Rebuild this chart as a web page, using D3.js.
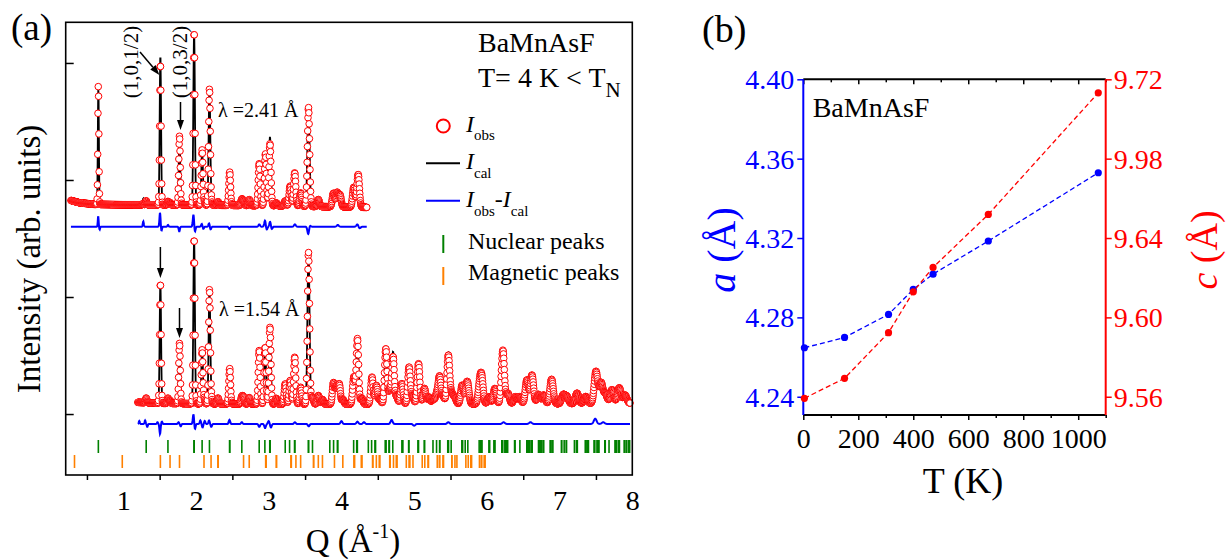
<!DOCTYPE html>
<html>
<head>
<meta charset="utf-8">
<script src="https://cdn.jsdelivr.net/npm/d3@7"></script>
<style>
  body { margin: 0; background: #fff; }
  svg text { font-family: "Liberation Serif", "Times New Roman", serif; }
</style>
</head>
<body>
<svg id="fig" width="1231" height="560"></svg>
<script>
// ---------------- Panel (a): neutron powder diffraction, BaMnAsF at 4 K ----------------

// Bragg reflection positions, Q in 1/Å
const nuclearQ = [0.657, 1.315, 1.614, 1.972, 1.975, 2.084, 2.185, 2.462, 2.464, 2.630, 2.869, 2.947, 3.014, 3.020,
  3.227, 3.287, 3.355, 3.360, 3.546, 3.548, 3.602, 3.840, 3.892, 3.944, 3.950, 4.168, 4.210, 4.216, 4.219, 4.370,
  4.415, 4.461, 4.469, 4.602, 4.611, 4.612, 4.654, 4.660, 4.706, 4.832, 4.841, 4.842, 4.924, 4.928, 5.052, 5.060,
  5.139, 5.144, 5.259, 5.308, 5.350, 5.353, 5.462, 5.464, 5.473, 5.509, 5.657, 5.660, 5.667, 5.702, 5.738, 5.894,
  5.916, 5.924, 5.928, 5.931, 6.028, 6.039, 6.097, 6.105, 6.111, 6.206, 6.209, 6.215, 6.216, 6.248, 6.252, 6.273,
  6.286, 6.381, 6.388, 6.454, 6.549, 6.555, 6.574, 6.590, 6.610, 6.617, 6.620, 6.623, 6.710, 6.720, 6.737, 6.749,
  6.772, 6.782, 6.870, 6.879, 6.896, 6.908, 7.026, 7.029, 7.063, 7.092, 7.095, 7.204, 7.231, 7.237, 7.244, 7.353,
  7.364, 7.380, 7.385, 7.392, 7.397, 7.476, 7.478, 7.484, 7.514, 7.525, 7.531, 7.542, 7.622, 7.627, 7.628, 7.680,
  7.763, 7.768, 7.784, 7.809, 7.823, 7.888, 7.899, 7.922, 7.947, 7.952, 7.960, 7.962];
const magneticQ = [0.329, 0.986, 1.510, 1.643, 1.773, 2.110, 2.207, 2.301, 2.305, 2.654, 2.732, 2.958, 2.965, 3.104,
  3.108, 3.305, 3.311, 3.374, 3.439, 3.616, 3.618, 3.682, 3.739, 3.904, 4.019, 4.173, 4.176, 4.181, 4.273, 4.283,
  4.428, 4.433, 4.480, 4.520, 4.529, 4.664, 4.671, 4.716, 4.754, 4.761, 4.763, 4.892, 4.930, 4.941, 4.984, 5.111,
  5.146, 5.191, 5.197, 5.319, 5.323, 5.353, 5.396, 5.404, 5.518, 5.519, 5.561, 5.588, 5.711, 5.744, 5.779, 5.790,
  5.898, 5.903, 5.930, 5.964, 5.969, 5.976];

// λ = 2.41 Å pattern: [Q, observed height, calculated height] above background
const peaks241 = [
  [0.657, 1017, 1017], [1.275, 12, 55], [1.315, 35, 35], [1.510, 1211, 1282], [1.614, 30, 30], [1.643, 20, 20],
  [1.773, 590, 590], [1.974, 1481, 1481], [2.084, 470, 470], [2.110, 30, 30], [2.185, 989, 989], [2.207, 40, 40],
  [2.303, 30, 30], [2.463, 285, 285], [2.630, 51, 51], [2.654, 30, 30], [2.732, 51, 51], [2.869, 359, 359],
  [2.955, 444, 460], [3.017, 530, 590], [3.104, 25, 25], [3.227, 43, 43], [3.295, 171, 171], [3.357, 285, 285],
  [3.439, 114, 114], [3.547, 846, 846], [3.682, 60, 60], [3.890, 115, 115], [3.940, 120, 120], [3.980, 100, 100],
  [4.170, 170, 170], [4.230, 280, 280]
];
const background241 = [[0.28, 125], [0.40, 105], [0.60, 92], [1.0, 88], [2.0, 86], [3.0, 80], [4.35, 66]];
const difference241 = [
  [0.655, 90], [0.675, -25], [1.275, 45], [1.505, 120], [1.525, -35], [1.615, 15], [1.770, -40], [1.965, 105],
  [1.985, -45], [2.080, 25], [2.100, -20], [2.180, 30], [2.200, -25], [2.460, -20], [2.870, 20], [2.950, 55],
  [2.970, -30], [3.020, 45], [3.040, -25], [3.360, 20], [3.545, -70], [3.560, 20], [3.950, 15], [4.220, 20],
  [4.250, -15]
];

// λ = 1.54 Å pattern: [Q, observed height, calculated height] above background
const peaks154 = [
  [1.315, 40, 40], [1.510, 1030, 1040], [1.614, 45, 45], [1.643, 25, 25], [1.773, 516, 516], [1.974, 1414, 1414],
  [2.084, 459, 459], [2.110, 40, 40], [2.185, 972, 972], [2.207, 60, 60], [2.303, 50, 50], [2.463, 303, 303],
  [2.630, 60, 60], [2.654, 55, 55], [2.732, 55, 55], [2.869, 459, 459], [2.950, 487, 487], [3.017, 658, 658],
  [3.104, 50, 50], [3.227, 174, 174], [3.295, 203, 203], [3.357, 402, 402], [3.439, 145, 145], [3.547, 1299, 1299],
  [3.602, 60, 60], [3.682, 74, 74], [3.739, 40, 40], [3.890, 180, 180], [3.930, 150, 150], [3.970, 170, 170],
  [4.020, 40, 40], [4.170, 231, 231], [4.220, 559, 559], [4.280, 50, 50], [4.420, 231, 231], [4.480, 160, 160],
  [4.530, 40, 40], [4.610, 474, 474], [4.665, 120, 120], [4.710, 402, 444], [4.760, 60, 60], [4.830, 175, 175],
  [4.930, 316, 316], [4.980, 60, 60], [5.060, 345, 345], [5.140, 134, 134], [5.200, 60, 60], [5.260, 40, 40],
  [5.310, 80, 80], [5.350, 231, 231], [5.400, 60, 60], [5.470, 416, 440], [5.520, 80, 80], [5.560, 50, 50],
  [5.660, 160, 160], [5.720, 120, 120], [5.740, 100, 100], [5.900, 150, 150], [5.930, 203, 203], [6.030, 60, 60],
  [6.110, 132, 132], [6.220, 459, 459], [6.290, 89, 89], [6.390, 60, 60], [6.450, 60, 60], [6.550, 203, 203],
  [6.620, 245, 245], [6.710, 80, 80], [6.780, 74, 74], [6.890, 209, 209], [7.050, 74, 74], [7.100, 60, 60],
  [7.240, 89, 89], [7.360, 60, 60], [7.500, 273, 273], [7.570, 174, 174], [7.630, 80, 80], [7.720, 117, 117],
  [7.820, 132, 132], [7.900, 70, 70]
];
const background154 = [[1.2, 100], [1.5, 92], [2.0, 88], [3.0, 84], [4.0, 84], [5.0, 85], [6.0, 86], [7.0, 88], [7.97, 92]];
const difference154 = [
  [1.22, 25], [1.30, 30], [1.33, -25], [1.47, 15], [1.505, -85], [1.53, 20], [1.76, 15], [1.79, -20], [1.965, 85],
  [1.985, -45], [2.06, 30], [2.09, -30], [2.12, 25], [2.18, 30], [2.21, -25], [2.46, 35], [2.63, 15], [2.87, -25],
  [2.95, -35], [3.00, 25], [3.03, -30], [3.36, 15], [3.55, -20], [4.00, 25], [4.22, 20], [4.31, 15], [4.69, 35],
  [5.00, -15], [5.47, 15], [6.23, 15], [6.60, 15], [7.49, 45], [7.60, 15]
];

// vertical offsets of the stacked curves (arb. units)
const offset241 = 1700, diffOffset241 = 1601, diffOffset154 = -85;
const qRange241 = [0.28, 4.35], qRange154 = [1.2, 7.97];
const qTicks = [1, 2, 3, 4, 5, 6, 7, 8];
const qMinorTicks = [0.5, 1.5, 2.5, 3.5, 4.5, 5.5, 6.5, 7.5];
const intensityTicks = [0, 1000, 2000, 3000];

// ---------------- Panel (b): lattice parameters vs temperature ----------------
const tempK = [4, 150, 310, 400, 472, 673, 1073];
const latticeA = [4.2647, 4.2699, 4.2815, 4.2941, 4.3018, 4.3185, 4.3529];
const latticeC = [9.5592, 9.5693, 9.5923, 9.6129, 9.6252, 9.6519, 9.7132];
const tTicks = [0, 200, 400, 600, 800, 1000];
const tMinorTicks = [100, 300, 500, 700, 900, 1100];
const aTicks = [4.24, 4.28, 4.32, 4.36, 4.40];
const cTicks = [9.56, 9.60, 9.64, 9.68, 9.72];
const cTickLabels = ["9.56", "9.60", "9.64", "9.98", "9.72"];

const FONT = "Liberation Serif, Times New Roman, serif";
const BLUE = "#0000ff", RED = "#ff0000", GREEN = "#008000", ORANGE = "#ff8000";
const svg = d3.select("#fig");

// ---------- helpers ----------
function linearKnots(knots, q) {
  if (q <= knots[0][0]) return knots[0][1];
  for (let i = 1; i < knots.length; i++) {
    if (q <= knots[i][0]) {
      const [q0, v0] = knots[i - 1], [q1, v1] = knots[i];
      return v0 + (v1 - v0) * (q - q0) / (q1 - q0);
    }
  }
  return knots[knots.length - 1][1];
}
function gauss(q, q0, s) { const d = (q - q0) / s; return Math.exp(-0.5 * d * d); }
function pattern(peaks, bg, width, col, q) {
  let v = linearKnots(bg, q);
  for (const p of peaks) v += p[col] * gauss(q, p[0], width(p[0]));
  return v;
}
function diffCurve(features, width, q) {
  let v = 0;
  for (const f of features) v += f[1] * gauss(q, f[0], 0.8 * width(f[0]));
  return v;
}
// instrumental peak widths (Gaussian sigma, 1/Å)
const width241 = q => 0.005 + 0.0028 * q;
const width154 = q => 0.0058 + 0.0024 * q;
const STEP = 0.004;

// ---------- panel (a) ----------
const qScale = d3.scaleLinear().domain([0.208, 8]).range([65.7, 632.3]);
const iScale = d3.scaleLinear().domain([-521, 3350]).range([475, 22]);
const gA = svg.append("g");

function drawPattern(peaks, bg, width, range, offset, diff, diffOffset) {
  const qs = d3.range(range[0], range[1] + 1e-9, STEP);
  const obs = qs.map(q => [q, pattern(peaks, bg, width, 1, q) + offset]);
  const cal = qs.map(q => [q, pattern(peaks, bg, width, 2, q) + offset]);
  const dif = qs.map(q => [q, diffCurve(diff, width, q) + diffOffset]);
  const line = d3.line().x(d => qScale(d[0])).y(d => iScale(d[1]));
  gA.append("path").attr("d", line(cal)).attr("fill", "none")
    .attr("stroke", "#000").attr("stroke-width", 1.8);
  gA.append("g").selectAll("circle").data(obs).join("circle")
    .attr("cx", d => qScale(d[0])).attr("cy", d => iScale(d[1])).attr("r", 3.3)
    .attr("fill", "#fff").attr("stroke", RED).attr("stroke-width", 1);
  gA.append("path").attr("d", line(dif)).attr("fill", "none")
    .attr("stroke", BLUE).attr("stroke-width", 2);
}
drawPattern(peaks241, background241, width241, qRange241, offset241, difference241, diffOffset241);
drawPattern(peaks154, background154, width154, qRange154, 0, difference154, diffOffset154);

// Bragg position ticks
gA.append("g").selectAll("line").data(nuclearQ).join("line")
  .attr("x1", d => qScale(d)).attr("x2", d => qScale(d)).attr("y1", 440).attr("y2", 453)
  .attr("stroke", GREEN).attr("stroke-width", 1.6);
gA.append("g").selectAll("line").data(magneticQ).join("line")
  .attr("x1", d => qScale(d)).attr("x2", d => qScale(d)).attr("y1", 455).attr("y2", 468)
  .attr("stroke", ORANGE).attr("stroke-width", 1.6);

// axes of panel (a)
const axA1 = gA.append("g").attr("transform", "translate(0,475)")
  .call(d3.axisBottom(qScale).tickValues(qMinorTicks).tickSize(5).tickFormat(""));
const axA2 = gA.append("g").attr("transform", "translate(0,475)")
  .call(d3.axisBottom(qScale).tickValues(qTicks).tickSize(0).tickFormat(d3.format("d")));
const axA3 = gA.append("g").attr("transform", "translate(65.7,0)")
  .call(d3.axisRight(iScale).tickValues(intensityTicks).tickSize(8).tickFormat(""));
[axA1, axA2, axA3].forEach(g => {
  g.select(".domain").remove();
  g.attr("font-family", FONT);
  g.selectAll(".tick line").attr("stroke", "#000").attr("stroke-width", 1.5);
});
axA2.selectAll(".tick text").attr("y", 35).attr("dy", 0).attr("font-size", 28).attr("fill", "#000");
gA.append("rect").attr("x", 65.7).attr("y", 22.3).attr("width", 632.3 - 65.7).attr("height", 475 - 22.3)
  .attr("fill", "none").attr("stroke", "#000").attr("stroke-width", 1.6);

// axis titles
gA.append("text").attr("transform", "translate(40,259) rotate(-90)").attr("text-anchor", "middle")
  .attr("font-size", 33).text("Intensity (arb. units)");
const qt = gA.append("text").attr("x", 353).attr("y", 552).attr("text-anchor", "middle").attr("font-size", 33);
qt.append("tspan").text("Q (Å");
qt.append("tspan").attr("dy", -14).attr("font-size", 20).text("-1");
qt.append("tspan").attr("dy", 14).text(")");
svg.append("text").attr("x", 11).attr("y", 40).attr("font-size", 37).text("(a)");

// annotations
gA.append("text").attr("x", 478).attr("y", 52).attr("font-size", 28).text("BaMnAsF");
const tn = gA.append("text").attr("x", 478).attr("y", 87).attr("font-size", 28);
tn.append("tspan").text("T= 4 K < T");
tn.append("tspan").attr("dy", 10).attr("font-size", 21).text("N");
gA.append("text").attr("x", 218).attr("y", 117).attr("font-size", 20).text("λ =2.41 Å");
gA.append("text").attr("x", 219).attr("y", 316).attr("font-size", 20).text("λ =1.54 Å");
gA.append("text").attr("transform", "translate(138,62) rotate(-90)").attr("text-anchor", "middle")
  .attr("font-size", 21).text("(1,0,1/2)");
gA.append("text").attr("transform", "translate(187,62) rotate(-90)").attr("text-anchor", "middle")
  .attr("font-size", 21).text("(1,0,3/2)");

function arrow(x1, y1, x2, y2) {
  const ang = Math.atan2(y2 - y1, x2 - x1), L = 10, Wd = 3.5;
  const bx = x2 - L * Math.cos(ang), by = y2 - L * Math.sin(ang);
  gA.append("line").attr("x1", x1).attr("y1", y1).attr("x2", bx).attr("y2", by)
    .attr("stroke", "#000").attr("stroke-width", 1.5);
  const px = -Math.sin(ang) * Wd, py = Math.cos(ang) * Wd;
  gA.append("polygon").attr("points", `${x2},${y2} ${bx + px},${by + py} ${bx - px},${by - py}`).attr("fill", "#000");
}
arrow(140, 52, qScale(1.510) - 1, 75);
arrow(qScale(1.773) + 1, 102, qScale(1.773) + 1, 130);
arrow(qScale(1.510), 247, qScale(1.510), 278);
arrow(qScale(1.773), 308, qScale(1.773), 338);

// legend
const lg = gA.append("g");
lg.append("circle").attr("cx", 443.3).attr("cy", 126).attr("r", 6.5).attr("fill", "#fff")
  .attr("stroke", RED).attr("stroke-width", 2);
const l1 = lg.append("text").attr("x", 466).attr("y", 132).attr("font-size", 24);
l1.append("tspan").attr("font-style", "italic").text("I");
l1.append("tspan").attr("dy", 8).attr("font-size", 15).text("obs");
lg.append("line").attr("x1", 426).attr("x2", 460).attr("y1", 163.3).attr("y2", 163.3).attr("stroke", "#000").attr("stroke-width", 2);
const l2 = lg.append("text").attr("x", 466).attr("y", 169).attr("font-size", 24);
l2.append("tspan").attr("font-style", "italic").text("I");
l2.append("tspan").attr("dy", 9).attr("font-size", 15).text("cal");
lg.append("line").attr("x1", 426).attr("x2", 460).attr("y1", 200.7).attr("y2", 200.7).attr("stroke", BLUE).attr("stroke-width", 2);
const l3 = lg.append("text").attr("x", 466).attr("y", 207).attr("font-size", 24);
l3.append("tspan").attr("font-style", "italic").text("I");
l3.append("tspan").attr("dy", 9).attr("font-size", 15).text("obs");
l3.append("tspan").attr("dy", -9).text("-");
l3.append("tspan").attr("font-style", "italic").text("I");
l3.append("tspan").attr("dy", 9).attr("font-size", 15).text("cal");
lg.append("line").attr("x1", 443.3).attr("x2", 443.3).attr("y1", 235).attr("y2", 253).attr("stroke", GREEN).attr("stroke-width", 2);
lg.append("text").attr("x", 468).attr("y", 249).attr("font-size", 24).text("Nuclear peaks");
lg.append("line").attr("x1", 443.3).attr("x2", 443.3).attr("y1", 267).attr("y2", 285).attr("stroke", ORANGE).attr("stroke-width", 2);
lg.append("text").attr("x", 468).attr("y", 280).attr("font-size", 24).text("Magnetic peaks");

// ---------- panel (b) ----------
const tScale = d3.scaleLinear().domain([0, 1100]).range([803.3, 1105.7]);
const aScale = d3.scaleLinear().domain([4.2308, 4.40]).range([415, 79.3]);
const cScale = d3.scaleLinear().domain([9.5508, 9.72]).range([415, 79.3]);
const gB = svg.append("g");

function styleAxis(g, color, size) {
  g.select(".domain").remove();
  g.attr("font-family", FONT).attr("font-size", size);
  g.selectAll(".tick line").attr("stroke", color).attr("stroke-width", 1.5);
  g.selectAll(".tick text").attr("fill", color);
  return g;
}
// bottom
const bx1 = gB.append("g").attr("transform", "translate(0,415)")
  .call(d3.axisBottom(tScale).tickValues(tTicks).tickSize(5).tickFormat(d3.format("d")));
styleAxis(bx1, "#000", 28).selectAll(".tick text").attr("y", 33).attr("dy", 0);
styleAxis(gB.append("g").attr("transform", "translate(0,415)")
  .call(d3.axisBottom(tScale).tickValues(tMinorTicks).tickSize(3).tickFormat("")), "#000", 28);
// top (inward)
styleAxis(gB.append("g").attr("transform", "translate(0,79.3)")
  .call(d3.axisBottom(tScale).tickValues(tTicks).tickSize(5).tickFormat("")), "#000", 28);
styleAxis(gB.append("g").attr("transform", "translate(0,79.3)")
  .call(d3.axisBottom(tScale).tickValues(tMinorTicks).tickSize(3).tickFormat("")), "#000", 28);
// left (a)
const ly = gB.append("g").attr("transform", "translate(803.3,0)")
  .call(d3.axisLeft(aScale).tickValues(aTicks).tickSize(6).tickPadding(3).tickFormat(d3.format(".2f")));
styleAxis(ly, BLUE, 28).selectAll(".tick text").attr("dy", "0.34em");
// right (c)
const ry = gB.append("g").attr("transform", "translate(1105.7,0)")
  .call(d3.axisRight(cScale).tickValues(cTicks).tickSize(6).tickPadding(2).tickFormat((d, i) => cTickLabels[i]));
styleAxis(ry, RED, 28).selectAll(".tick text").attr("dy", "0.34em");

// axis lines
gB.append("line").attr("x1", 803.3).attr("x2", 1105.7).attr("y1", 79.3).attr("y2", 79.3).attr("stroke", "#000").attr("stroke-width", 2);
gB.append("line").attr("x1", 803.3).attr("x2", 1105.7).attr("y1", 415).attr("y2", 415).attr("stroke", "#000").attr("stroke-width", 2);
gB.append("line").attr("x1", 803.3).attr("x2", 803.3).attr("y1", 79.3).attr("y2", 415).attr("stroke", BLUE).attr("stroke-width", 2);
gB.append("line").attr("x1", 1105.7).attr("x2", 1105.7).attr("y1", 79.3).attr("y2", 415).attr("stroke", RED).attr("stroke-width", 2);

// series
const seriesA = tempK.map((t, i) => [t, latticeA[i]]);
const seriesC = tempK.map((t, i) => [t, latticeC[i]]);
function drawSeries(data, yS, color) {
  gB.append("path").attr("d", d3.line().x(d => tScale(d[0])).y(d => yS(d[1]))(data))
    .attr("fill", "none").attr("stroke", color).attr("stroke-width", 1.3).attr("stroke-dasharray", "5,3");
  gB.append("g").selectAll("circle").data(data).join("circle")
    .attr("cx", d => tScale(d[0])).attr("cy", d => yS(d[1])).attr("r", 3.6).attr("fill", color);
}
drawSeries(seriesA, aScale, BLUE);
drawSeries(seriesC, cScale, RED);

// titles
gB.append("text").attr("x", 812.7).attr("y", 117).attr("font-size", 28).text("BaMnAsF");
gB.append("text").attr("x", 963).attr("y", 493).attr("text-anchor", "middle").attr("font-size", 36).text("T (K)");
const at = gB.append("text").attr("transform", "translate(735,250) rotate(-90)").attr("text-anchor", "middle")
  .attr("font-size", 40).attr("fill", BLUE);
at.append("tspan").attr("font-style", "italic").text("a");
at.append("tspan").text(" (Å)");
const ct = gB.append("text").attr("transform", "translate(1217,250) rotate(-90)").attr("text-anchor", "middle")
  .attr("font-size", 38).attr("fill", RED);
ct.append("tspan").attr("font-style", "italic").text("c");
ct.append("tspan").text(" (Å)");
svg.append("text").attr("x", 702).attr("y", 42).attr("font-size", 38).text("(b)");
</script>
</body>
</html>
